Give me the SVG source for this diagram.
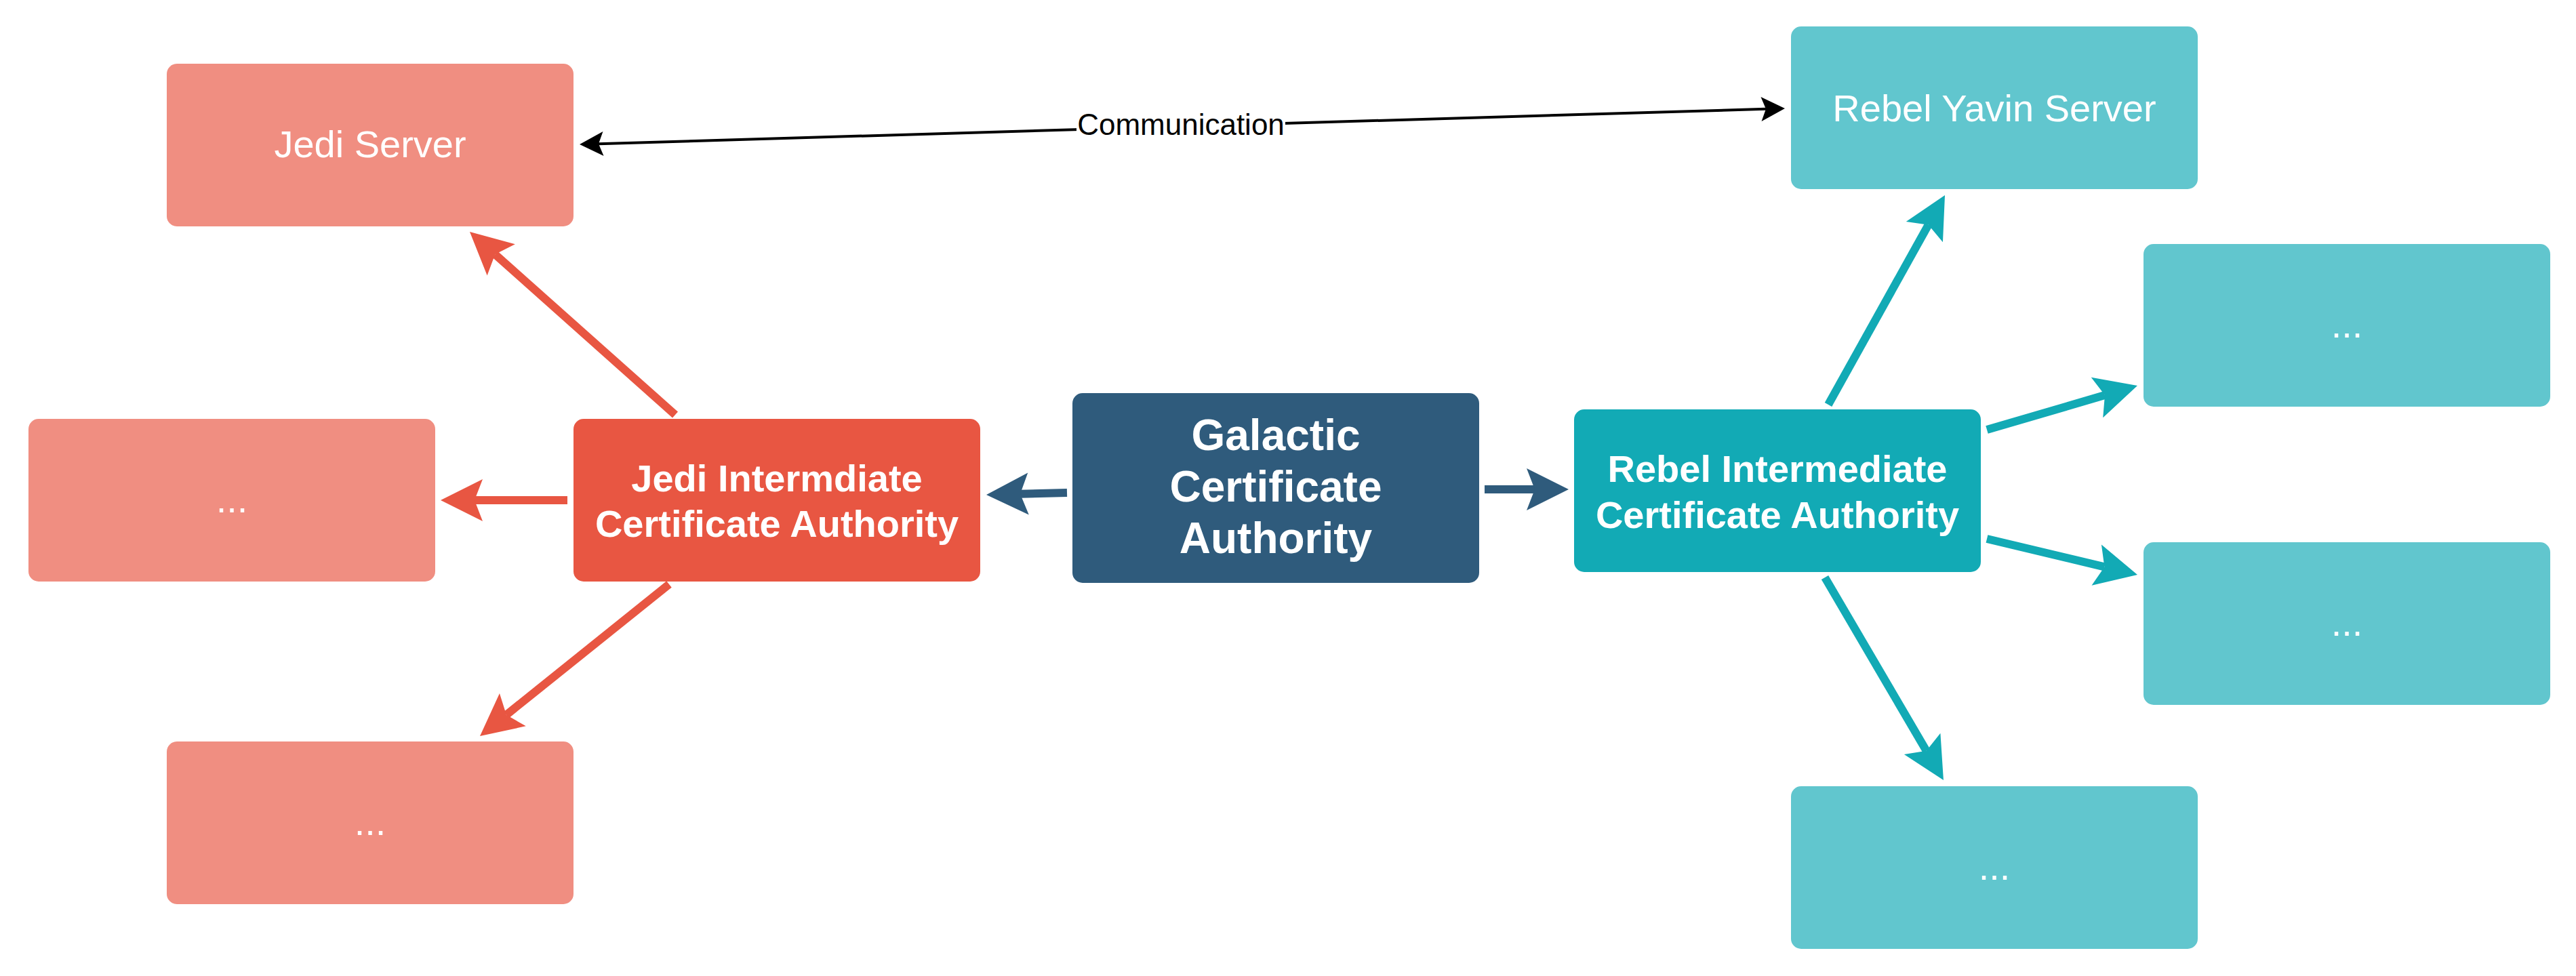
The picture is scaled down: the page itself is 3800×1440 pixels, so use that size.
<svg xmlns="http://www.w3.org/2000/svg" width="3800" height="1440" viewBox="0 0 3800 1440">
<style>
.lbl{font-family:"Liberation Sans",Arial,Helvetica,sans-serif;fill:#ffffff;text-anchor:middle}
.reg{font-size:56px}
.bold{font-size:56px;font-weight:bold}
.big{font-size:64px;font-weight:bold}
.edge{fill:none;stroke-width:12}
</style>
<defs>
<marker id="ah-red" markerUnits="userSpaceOnUse" markerWidth="70" markerHeight="70" viewBox="-15 -35 70 70" refX="0" refY="0" orient="auto" overflow="visible"><path d="M50,0 L-12,-31 L0,0 L-12,31 Z" fill="#E85642"/></marker>
<marker id="ah-blue" markerUnits="userSpaceOnUse" markerWidth="70" markerHeight="70" viewBox="-15 -35 70 70" refX="0" refY="0" orient="auto" overflow="visible"><path d="M50,0 L-12,-31 L0,0 L-12,31 Z" fill="#2F5B7C"/></marker>
<marker id="ah-teal" markerUnits="userSpaceOnUse" markerWidth="70" markerHeight="70" viewBox="-15 -35 70 70" refX="0" refY="0" orient="auto" overflow="visible"><path d="M50,0 L-12,-31 L0,0 L-12,31 Z" fill="#12AAB5"/></marker>
<marker id="ah-black" markerUnits="userSpaceOnUse" markerWidth="40" markerHeight="40" viewBox="-10 -20 40 40" refX="0" refY="0" orient="auto-start-reverse" overflow="visible"><path d="M28,0 L-7,-18 L0,0 L-7,18 Z" fill="#000000"/></marker>
</defs>
<rect width="3800" height="1440" fill="#ffffff"/>
<g id="connectors">
<path class="edge" stroke="#E85642" marker-end="url(#ah-red)" d="M996,612 L730.3,375.3"/>
<path class="edge" stroke="#E85642" marker-end="url(#ah-red)" d="M837,738 L700,738"/>
<path class="edge" stroke="#E85642" marker-end="url(#ah-red)" d="M987,862 L747,1054.7"/>
<path class="edge" stroke="#2F5B7C" marker-end="url(#ah-blue)" d="M1574,727 L1505,728.7"/>
<path class="edge" stroke="#2F5B7C" marker-end="url(#ah-blue)" d="M2190,722 L2264,722"/>
<path class="edge" stroke="#12AAB5" marker-end="url(#ah-teal)" d="M2697,597 L2844.7,331.7"/>
<path class="edge" stroke="#12AAB5" marker-end="url(#ah-teal)" d="M2931,634 L3105,583.1"/>
<path class="edge" stroke="#12AAB5" marker-end="url(#ah-teal)" d="M2931,795 L3104.4,836.4"/>
<path class="edge" stroke="#12AAB5" marker-end="url(#ah-teal)" d="M2692,852 L2841.7,1107.8"/>
<g id="edge-communication">
<path fill="none" stroke="#000000" stroke-width="4" marker-start="url(#ah-black)" marker-end="url(#ah-black)" d="M883,212.2 L2605,160.8"/>
<rect x="1588" y="162" width="308" height="46" fill="#ffffff"/>
<text x="1742" y="199" font-family="Liberation Sans,Arial,sans-serif" font-size="44" text-anchor="middle" fill="#000000">Communication</text>
</g>
</g>
<g id="jedi-server"><rect x="246" y="94" width="600" height="240" rx="15" fill="#F08E81"/><text class="lbl reg" x="546" y="232">Jedi Server</text></g>
<g id="jedi-other-1"><rect x="42" y="618" width="600" height="240" rx="15" fill="#F08E81"/><text class="lbl reg" x="342" y="756">...</text></g>
<g id="jedi-other-2"><rect x="246" y="1094" width="600" height="240" rx="15" fill="#F08E81"/><text class="lbl reg" x="546" y="1232">...</text></g>
<g id="jedi-intermediate"><rect x="846" y="618" width="600" height="240" rx="15" fill="#E85642"/><text class="lbl bold" x="1146" y="725">Jedi Intermdiate</text><text class="lbl bold" x="1146" y="792">Certificate Authority</text></g>
<g id="galactic-ca"><rect x="1582" y="580" width="600" height="280" rx="15" fill="#2F5B7C"/><text class="lbl big" x="1882" y="664">Galactic</text><text class="lbl big" x="1882" y="740">Certificate</text><text class="lbl big" x="1882" y="816">Authority</text></g>
<g id="rebel-intermediate"><rect x="2322" y="604" width="600" height="240" rx="15" fill="#12AAB5"/><text class="lbl bold" x="2622" y="711">Rebel Intermediate</text><text class="lbl bold" x="2622" y="779">Certificate Authority</text></g>
<g id="rebel-yavin-server"><rect x="2642" y="39" width="600" height="240" rx="15" fill="#61C6CE"/><text class="lbl reg" x="2942" y="179">Rebel Yavin Server</text></g>
<g id="rebel-other-1"><rect x="3162" y="360" width="600" height="240" rx="15" fill="#61C6CE"/><text class="lbl reg" x="3462" y="498">...</text></g>
<g id="rebel-other-2"><rect x="3162" y="800" width="600" height="240" rx="15" fill="#61C6CE"/><text class="lbl reg" x="3462" y="938">...</text></g>
<g id="rebel-other-3"><rect x="2642" y="1160" width="600" height="240" rx="15" fill="#61C6CE"/><text class="lbl reg" x="2942" y="1298">...</text></g>
</svg>
